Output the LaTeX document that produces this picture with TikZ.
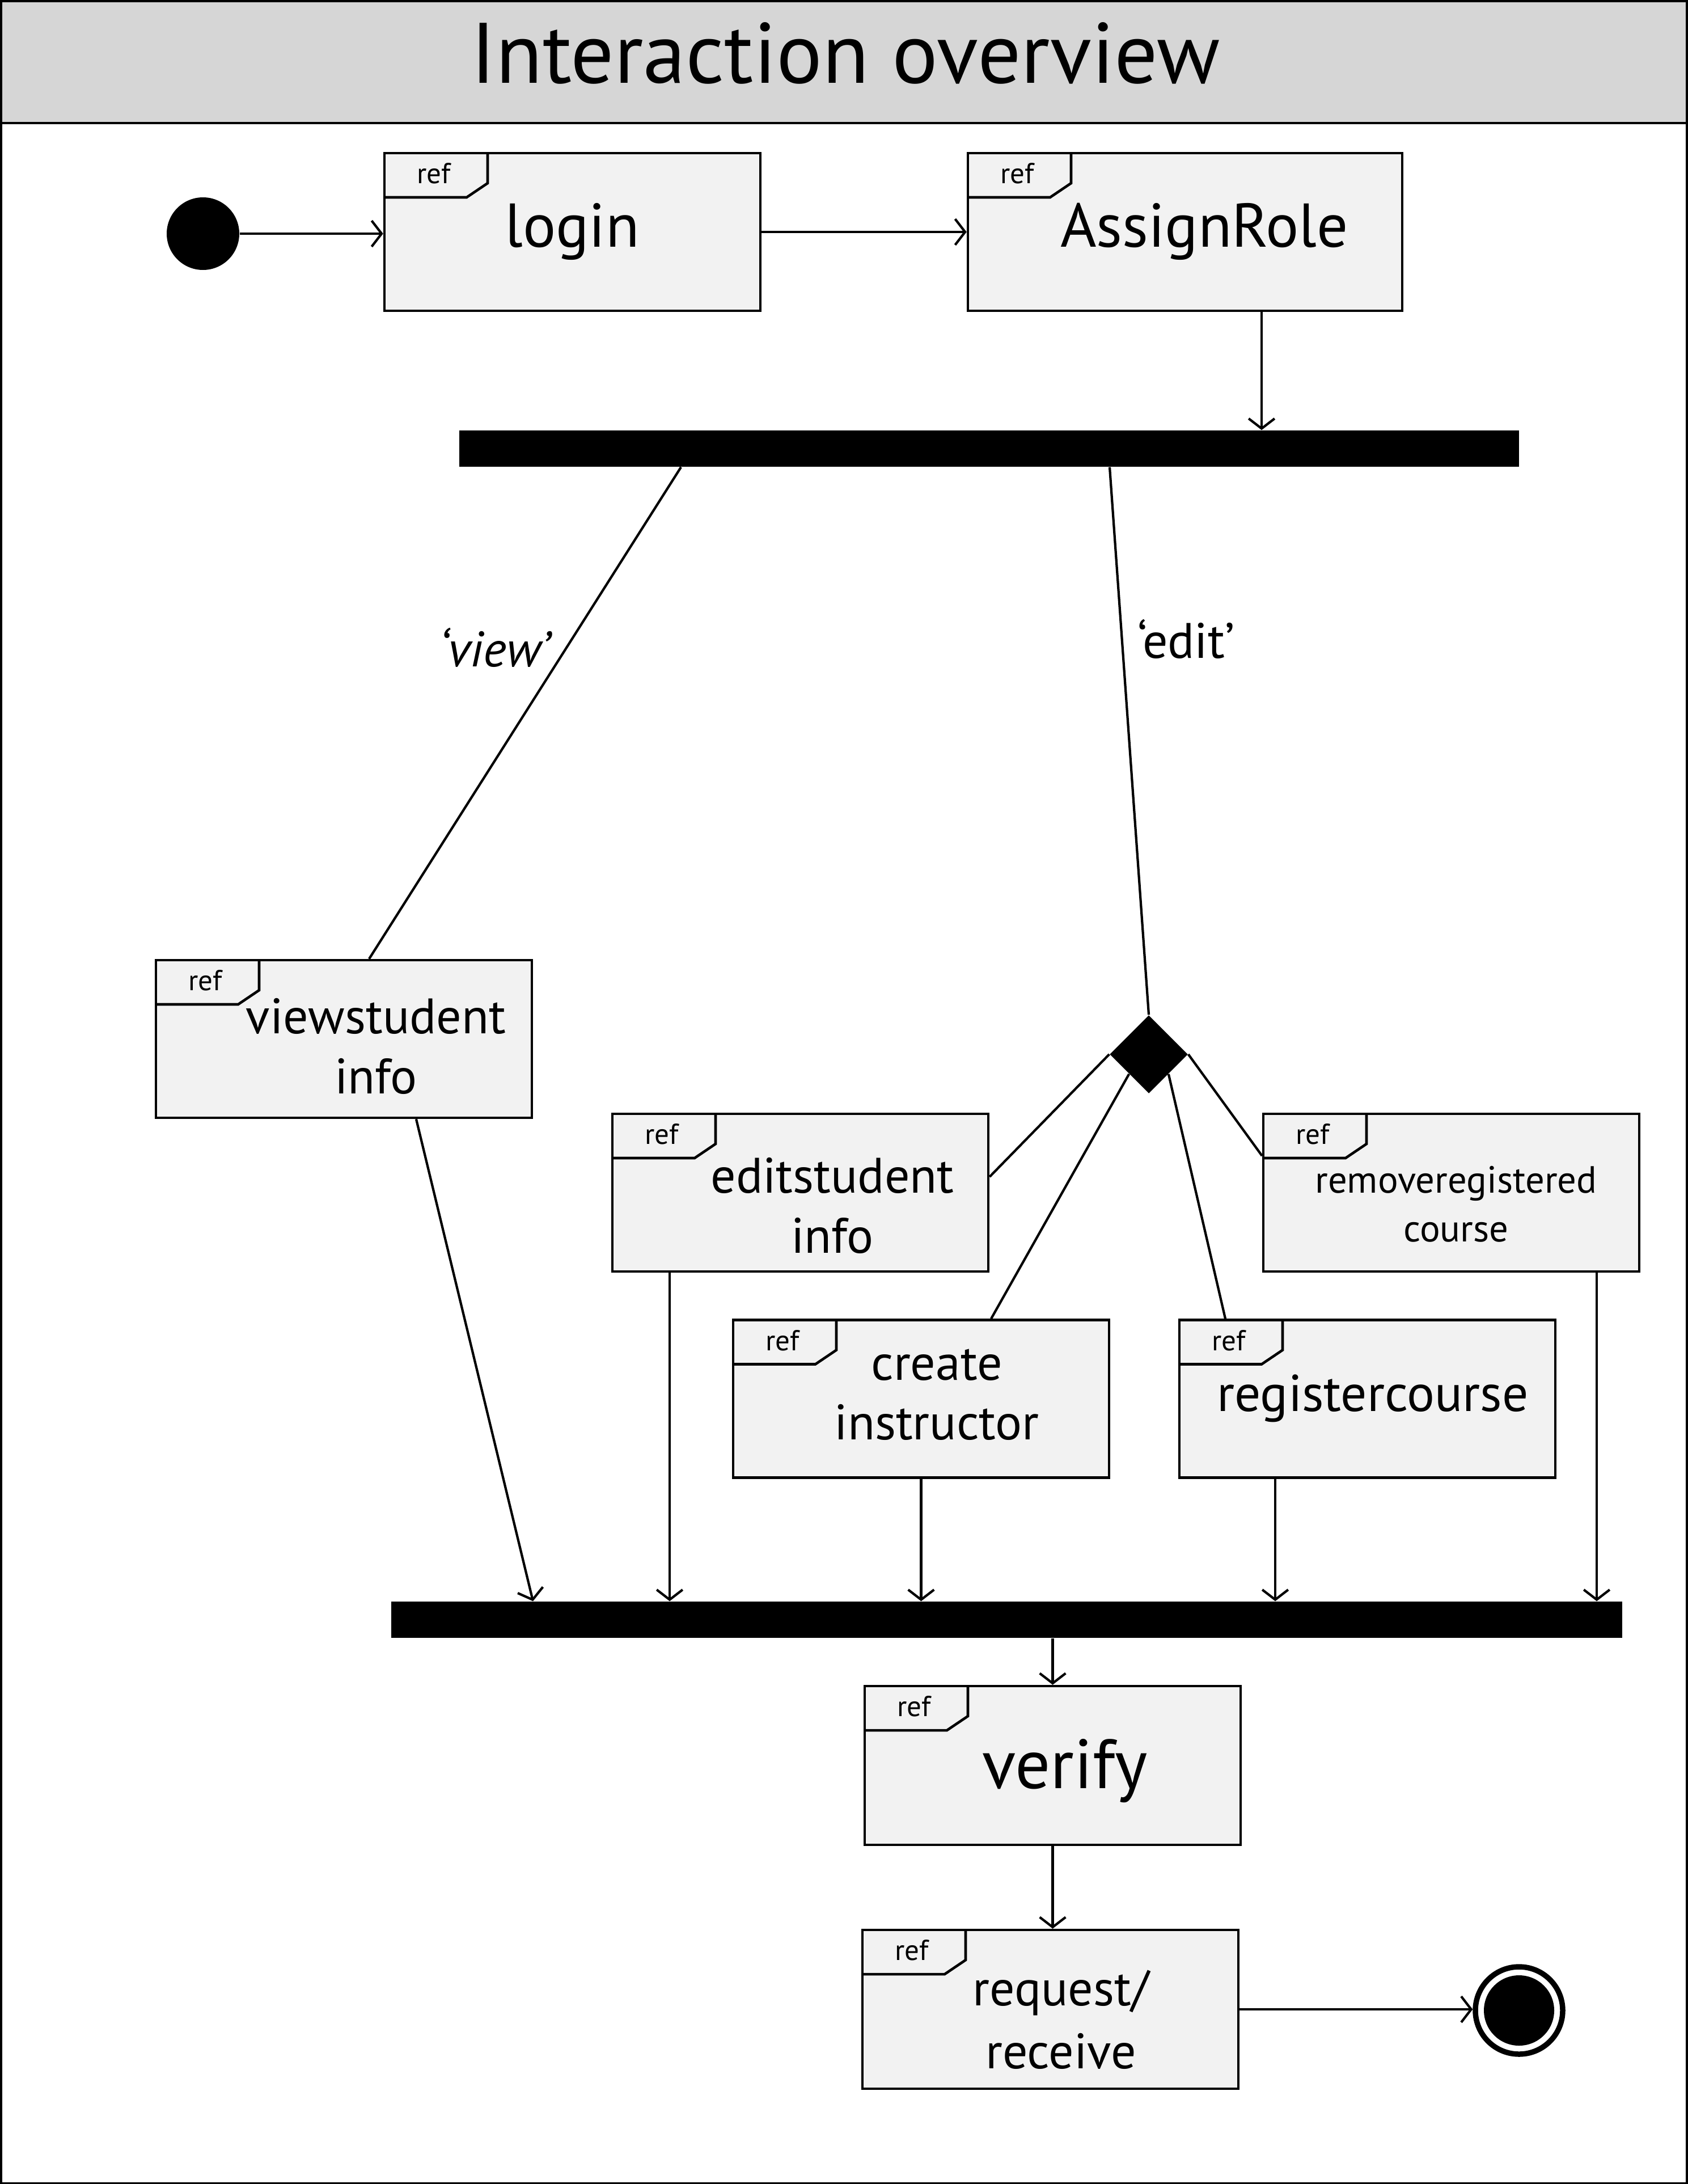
\documentclass[tikz,border=0pt]{standalone}
\usepackage{fontspec}
\setmainfont{PT Sans}
\usetikzlibrary{arrows.meta,shapes.geometric}
\definecolor{headgray}{HTML}{D6D6D6}
\definecolor{boxgray}{HTML}{F2F2F2}
\newcommand{\fsz}[2]{\fontsize{#1}{#2}\selectfont}

\begin{document}
\begin{tikzpicture}[x=1cm,y=-1cm,
  refbox/.style={draw, line width=1.3pt, fill=boxgray, inner sep=0pt,
    minimum width=6.63cm, minimum height=2.78cm,
    path picture={
      \draw[line width=1.3pt] ([yshift=-0.78cm]path picture bounding box.north west)
        -- ++(1.45cm,0cm) -- ++(0.37cm,0.25cm) -- ++(0cm,0.53cm);
      \node[font=\fsz{14.5}{17}] at ([shift={(0.87cm,-0.36cm)}]path picture bounding box.north west) {ref};
    }},
  lbl/.style={align=center, inner sep=0pt, font=\fsz{25}{30}},
  bar/.style={fill=black, inner sep=0pt, minimum height=0.64cm},
  flow/.style={line width=1.2pt, -{Straight Barb[length=5pt,width=13pt]}},
  link/.style={line width=1.2pt}]
\useasboundingbox (0,0) rectangle (29.76,38.51);
% frame and header
\fill[headgray] (0,0) rectangle (29.76,2.17);
\draw[line width=1.2pt] (0,2.17) -- (29.76,2.17);
\draw[line width=2pt] (0,0) rectangle (29.76,38.51);
\node[font=\fsz{43}{51}, anchor=base] (title) at (14.91,1.47) {Interaction overview};

% start / end
\node[circle, fill=black, minimum size=1.28cm, inner sep=0pt] (init) at (3.58,4.12) {};
\node[circle, draw, line width=2.7pt, minimum size=1.54cm, inner sep=0pt,
  path picture={\fill (path picture bounding box.center) circle (0.62cm);}] (final) at (26.79,35.45) {};

% ref boxes
\node[refbox] (login) at (10.095,4.09) {};
\node[refbox, minimum width=7.66cm] (asr) at (20.90,4.09) {};
\node[refbox] (vsi) at (6.065,18.32) {};
\node[refbox] (esi) at (14.115,21.03) {};
\node[refbox] (ci) at (16.245,24.665) {};
\node[refbox] (rc) at (24.115,24.665) {};
\node[refbox] (rrc) at (25.595,21.03) {};
\node[refbox, minimum height=2.80cm] (verify) at (18.565,31.13) {};
\node[refbox, minimum height=2.80cm] (req) at (18.525,35.43) {};

\node[lbl, font=\fsz{31}{37}] (login-t) at (10.09,4.08) {login};
\node[lbl, font=\fsz{31}{37}] (asr-t) at (21.24,4.08) {AssignRole};
\node[lbl] (vsi-t) at (6.63,18.45) {viewstudent\\info};
\node[lbl] (esi-t) at (14.68,21.26) {editstudent\\info};
\node[lbl] (ci-t) at (16.52,24.59) {create\\instructor};
\node[lbl, font=\fsz{26}{31}] (rc-t) at (24.21,24.66) {registercourse};
\node[lbl, font=\fsz{19}{24.5}] (rrc-t) at (25.68,21.23) {removeregistered\\course};
\node[lbl, font=\fsz{35}{42}] (verify-t) at (18.78,31.23) {verify};
\node[lbl, font=\fsz{25}{31.5}] (req-t) at (18.71,35.61) {request/\\receive};

% fork / join bars and decision
\node[bar, minimum width=18.69cm] (fork1) at (17.445,7.91) {};
\node[bar, minimum width=21.71cm] (fork2) at (17.755,28.56) {};
\node[diamond, fill=black, inner sep=0pt, minimum width=1.38cm, minimum height=1.38cm] (dec) at (20.26,18.59) {};

\node[font=\fsz{25}{30}\itshape] (view) at (8.72,11.42) {‘view’};
\node[font=\fsz{25}{30}] (edit) at (20.92,11.27) {‘edit’};

% connectors
\draw[flow] (init.east) -- (init.east -| login.west);
\draw[flow] (login) -- (asr);
\draw[flow] ([xshift=1.35cm]asr.south) -- ([xshift=1.35cm]asr.south |- fork1.north);
\draw[link] ([xshift=-5.435cm]fork1.south) -- ([xshift=0.445cm]vsi.north);
\draw[link] ([xshift=2.125cm]fork1.south) -- (dec.north);
\draw[link] (dec.west) -- ([yshift=0.28cm]esi.east);
\draw[link] (dec.south west) -- ([xshift=1.235cm]ci.north);
\draw[link] (dec.south east) -- ([xshift=-2.505cm]rc.north);
\draw[link] (dec.east) -- ([yshift=0.65cm]rrc.west);
\draw[flow] ([xshift=1.275cm]vsi.south) -- ([xshift=-8.355cm]fork2.north);
\draw[flow] ([xshift=-2.305cm]esi.south) -- ([xshift=-2.305cm]esi.south |- fork2.north);
\draw[flow] (ci.south) -- (ci.south |- fork2.north);
\draw[flow] ([xshift=-1.625cm]rc.south) -- ([xshift=-1.625cm]rc.south |- fork2.north);
\draw[flow] ([xshift=2.565cm]rrc.south) -- ([xshift=2.565cm]rrc.south |- fork2.north);
\draw[flow] (verify.north |- fork2.south) -- (verify.north);
\draw[flow] (verify.south) -- (verify.south |- req.north);
\draw[flow] (req.east) -- (req.east -| final.west);
\end{tikzpicture}
\end{document}
